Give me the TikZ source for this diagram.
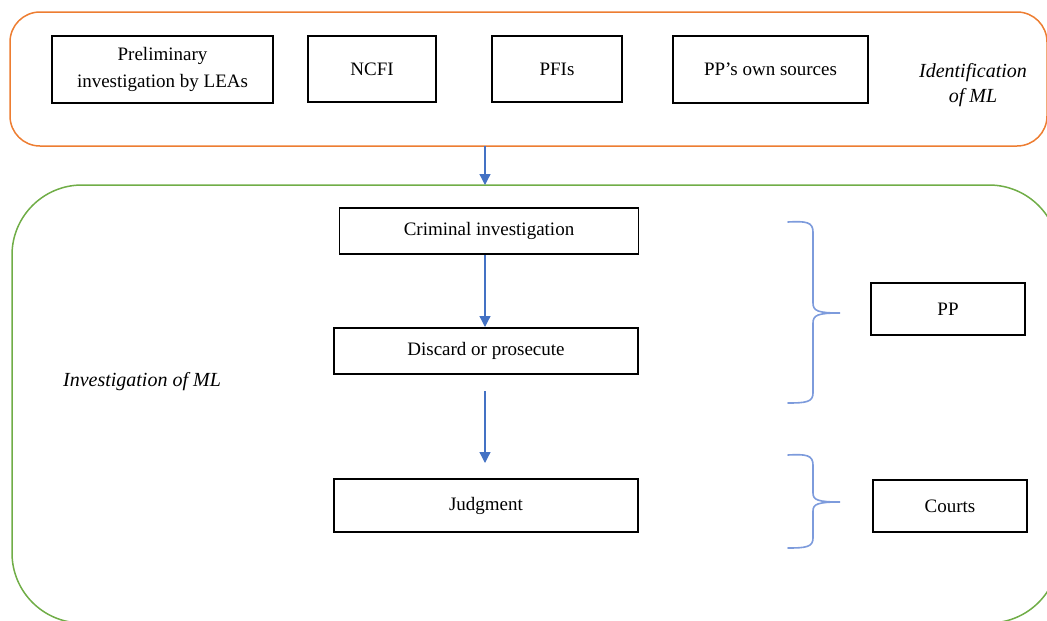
\documentclass[tikz,border=0pt]{standalone}
\usepackage{fontspec}
\setmainfont{Liberation Serif}
\usetikzlibrary{arrows.meta}
\definecolor{frameorange}{RGB}{237,125,49}
\definecolor{framegreen}{RGB}{112,173,71}
\definecolor{flowblue}{RGB}{68,114,196}
\definecolor{braceblue}{RGB}{125,155,220}
\begin{document}
\begin{tikzpicture}[x=1pt,y=-1pt,
  box/.style={draw=black,line width=1.4pt,fill=white,inner sep=2pt,align=center,
    font=\fontsize{19}{27}\selectfont},
  lbl/.style={align=center,font=\fontsize{20}{25}\selectfont\itshape},
  flow/.style={draw=flowblue,line width=1.3pt,-{Triangle[length=11pt,width=11pt]}},
  bracepath/.style={draw=braceblue,line width=1.6pt,line cap=round}]
\useasboundingbox (0,0) rectangle (1047,621);
\clip (0,0) rectangle (1047,621);

% stage containers
\node[draw=frameorange,line width=1.5pt,rounded corners=30pt,minimum width=1037pt,
  minimum height=134pt,inner sep=0pt] (ident) at (528.5,79) {};
\node[draw=framegreen,line width=1.5pt,rounded corners=70pt,minimum width=1047pt,
  minimum height=438pt,inner sep=0pt] (invest) at (535.5,404) {};

% sources of identification
\node[box,minimum width=221pt,minimum height=67pt] (prelim) at (162.5,69.5)
  {Preliminary\\investigation by LEAs};
\node[box,minimum width=128pt,minimum height=66pt] (ncfi) at (372,69) {NCFI};
\node[box,minimum width=130pt,minimum height=66pt] (pfis) at (557,69) {PFIs};
\node[box,minimum width=195pt,minimum height=67pt] (ppown) at (770.5,69.5) {PP’s own sources};
\node[lbl] (identlbl) at (973,85) {Identification\\of ML};

% investigation steps
\node[box,minimum width=299pt,minimum height=46pt] (crim) at (489,231) {Criminal investigation};
\node[box,minimum width=304pt,minimum height=46pt] (discard) at (486,351) {Discard or prosecute};
\node[box,minimum width=304pt,minimum height=53pt] (judg) at (486,505.5) {Judgment};
\node[lbl] (investlbl) at (142,382) {Investigation of ML};

% responsible bodies
\node[box,minimum width=154pt,minimum height=52pt] (pp) at (948,309) {PP};
\node[box,minimum width=154pt,minimum height=52pt] (courts) at (950,506) {Courts};

% flow arrows
\draw[flow] (485,146) -- (485,185);
\coordinate (a1) at (485,255);
\draw[flow] (a1) -- (485,327);
\draw[flow,shorten <=17pt,shorten >=16pt] (485,374) -- (485,479);

% braces
\draw[bracepath] (788,222) .. controls (806,221) and (813,222) .. (813,232)
  -- (813,303) .. controls (813,311) and (818,313) .. (840,313)
  .. controls (818,313) and (813,315) .. (813,323)
  -- (813,393) .. controls (813,402) and (806,403) .. (788,403);
\draw[bracepath] (788,455) .. controls (806,454) and (813,455) .. (813,465)
  -- (813,493) .. controls (813,500) and (818,502) .. (840,502)
  .. controls (818,502) and (813,504) .. (813,511)
  -- (813,538) .. controls (813,547) and (806,548) .. (788,548);
\end{tikzpicture}
\end{document}
